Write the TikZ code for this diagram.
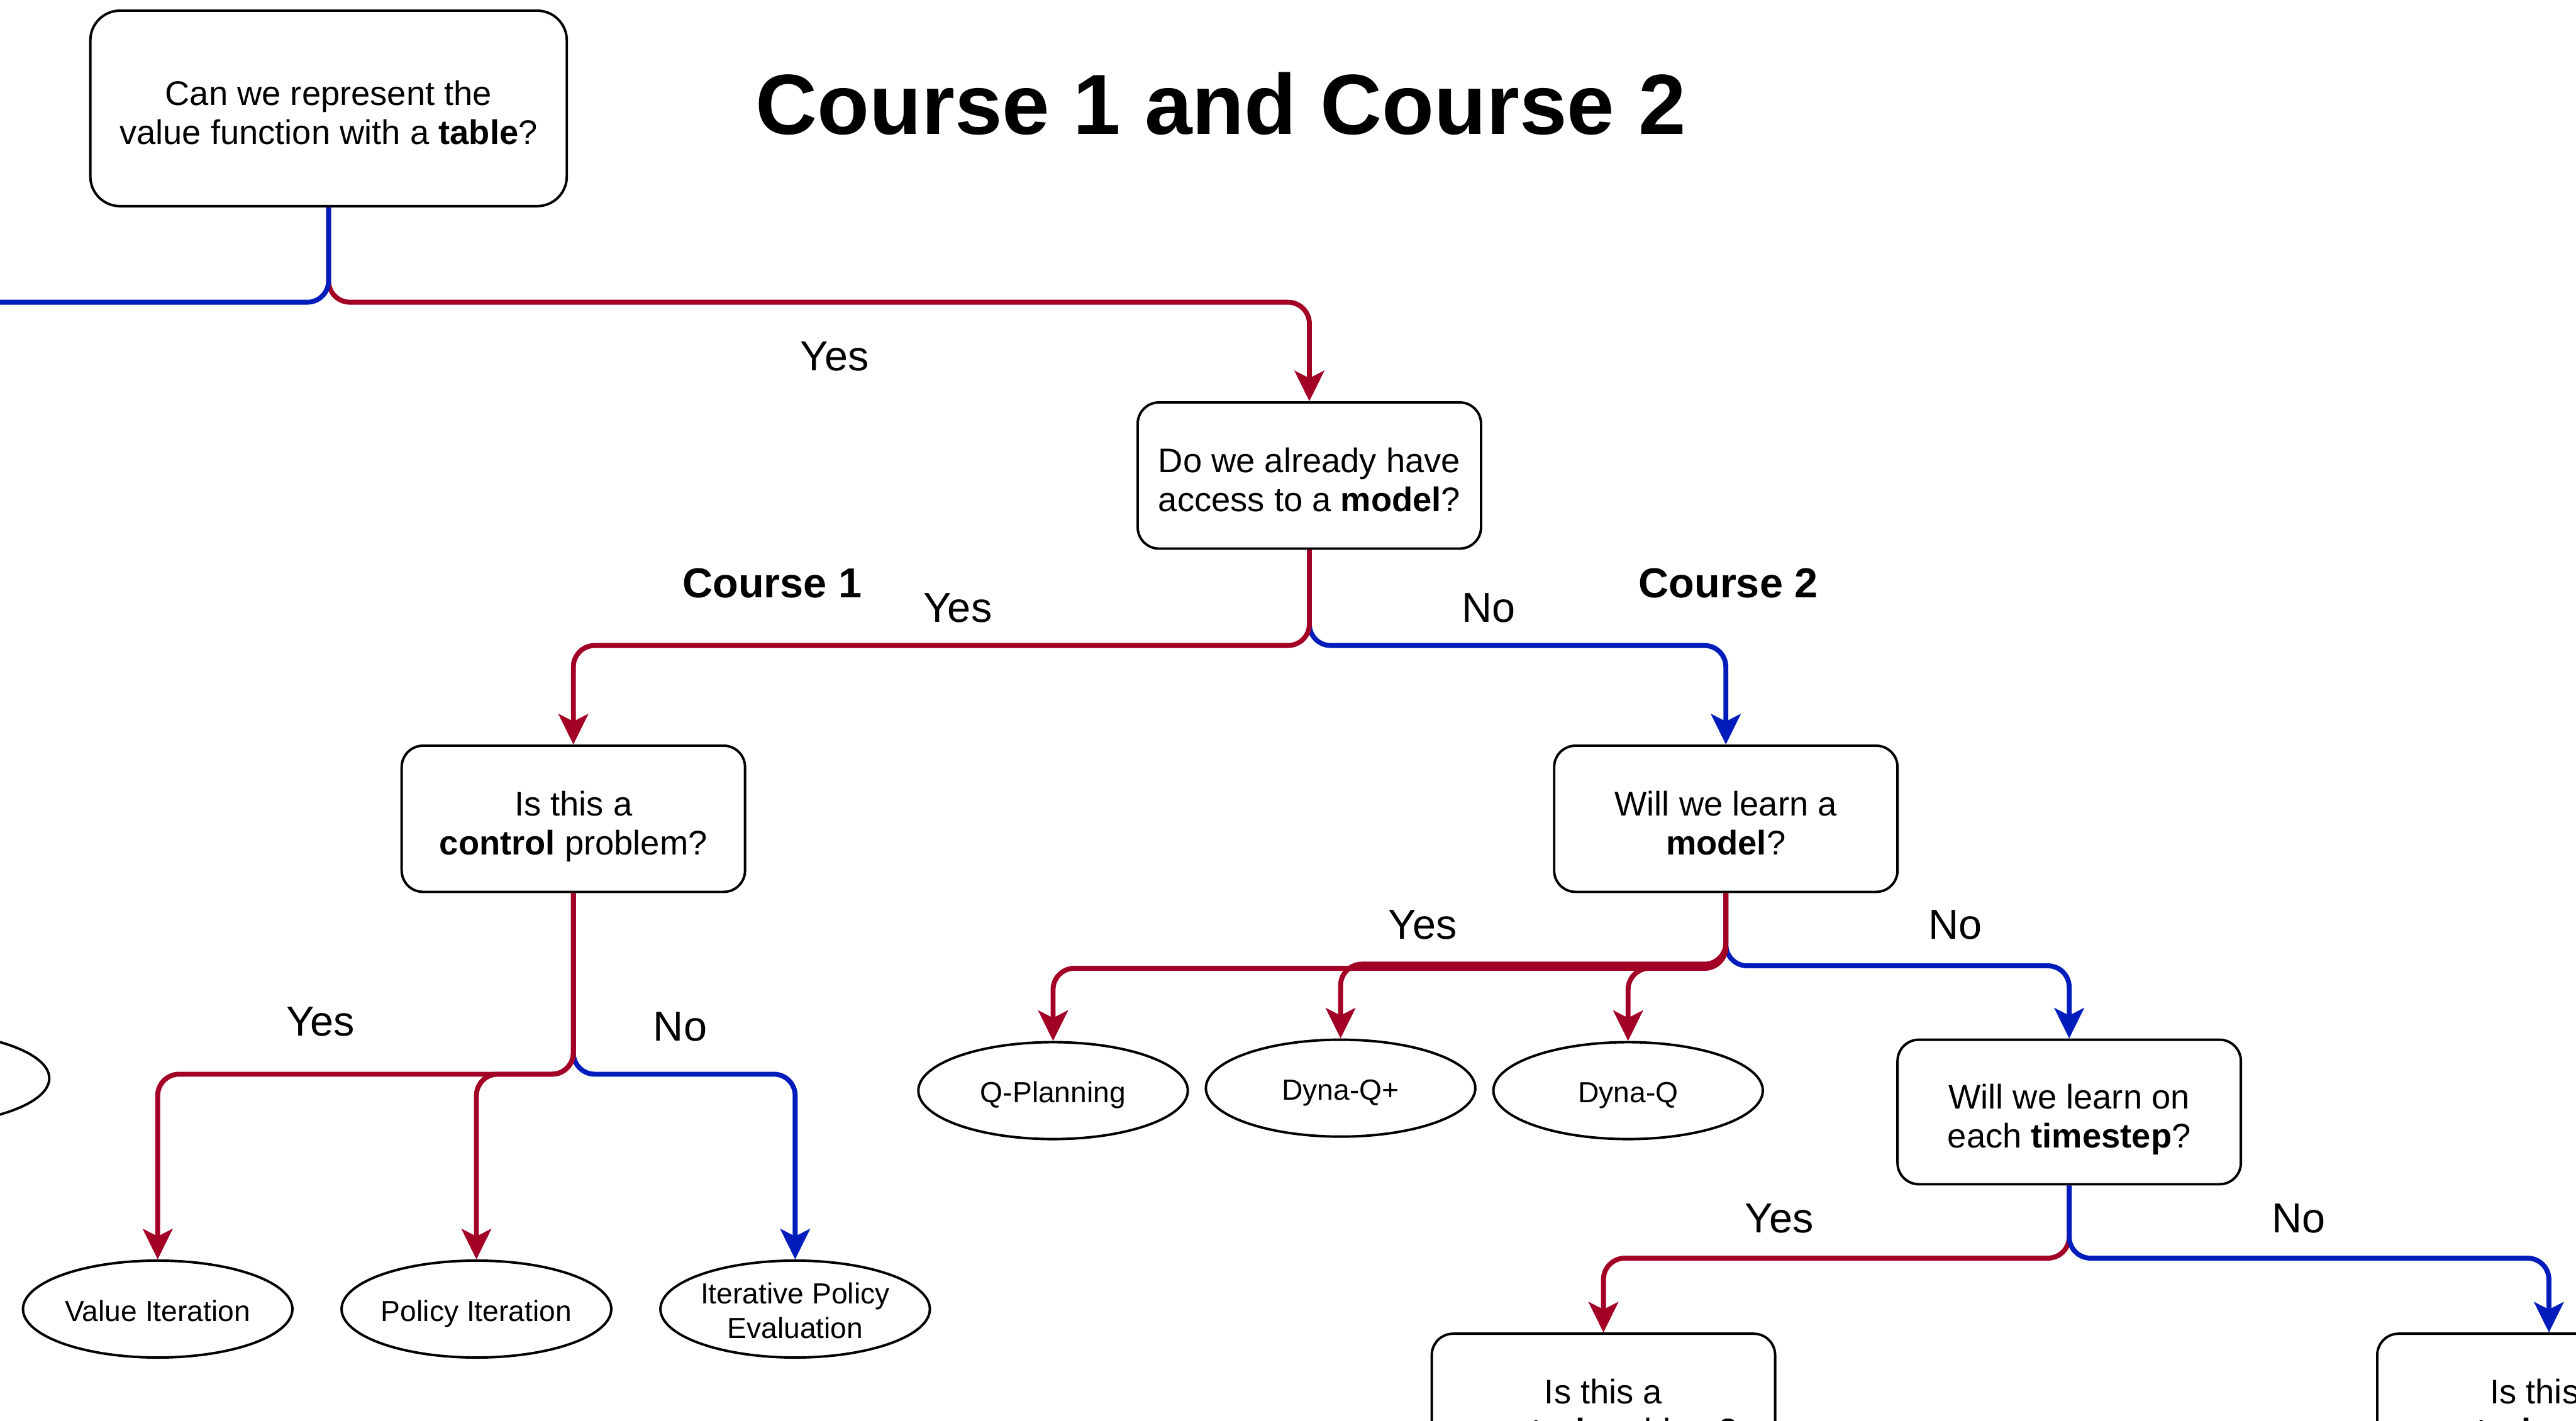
\documentclass[tikz,border=0pt]{standalone}
\usepackage{fontspec}
\setmainfont{Liberation Sans}
\usetikzlibrary{arrows.meta,shapes.geometric}
\definecolor{cred}{HTML}{A20025}
\definecolor{cblue}{HTML}{001DBC}
\newcommand{\qfont}{\fontsize{20.8}{24}\selectfont}
\newcommand{\efont}{\fontsize{17.7}{21}\selectfont}
\newcommand{\lfont}{\fontsize{25.5}{30}\selectfont}
\newcommand{\tfont}{\fontsize{52}{60}\selectfont\bfseries}
\tikzset{
  qbox/.style={draw, line width=1.5pt, rounded corners=13pt, minimum width=209pt,
    minimum height=89pt, align=center, inner sep=0pt, font=\qfont,
    text height=44pt, text depth=0pt},
  algo/.style={draw, ellipse, line width=1.5pt, minimum width=164pt, minimum height=59pt,
    align=center, inner sep=0pt, font=\efont, text height=14.7pt, text depth=0pt},
  lab/.style={inner sep=0pt, font=\lfont},
  blab/.style={inner sep=0pt, font=\lfont\bfseries},
  tip/.style={-{Stealth[length=18.5pt,width=18pt,inset=4.5pt]}},
  redE/.style={draw=cred, line width=3pt, rounded corners=13pt, tip},
  blueE/.style={draw=cblue, line width=3pt, rounded corners=13pt, tip},
}
\begin{document}
\begin{tikzpicture}[x=1pt,y=-1pt]
\clip (0,0) rectangle (1568,865);
\fill[white] (0,0) rectangle (1568,865);

% title
\node[inner sep=0pt, font=\tfont] (title) at (743,63) {Course 1 and Course 2};

% question boxes
\node[qbox, minimum width=290pt, minimum height=119pt, rounded corners=18pt] (b1) at (200,66)
  {Can we represent the\\value function with a \textbf{table}?};
\node[qbox] (b2) at (797,289.5) {Do we already have\\access to a \textbf{model}?};
\node[qbox] (b3) at (349,498.5) {Is this a\\\textbf{control} problem?};
\node[qbox] (b4) at (1050.5,498.5) {Will we learn a\\\textbf{model}?};
\node[qbox, minimum height=88pt] (b5) at (1259.5,677) {Will we learn on\\each \textbf{timestep}?};
\node[qbox] (b6) at (976,856.5) {Is this a\\\textbf{control} problem?};
\node[qbox] (b7) at (1551.5,856.5) {Is this a\\\textbf{control} problem?};

% algorithm ellipses
\node[algo] (vi) at (96,797) {Value Iteration};
\node[algo] (pi) at (290,797) {Policy Iteration};
\node[algo, text height=35.7pt] (ipe) at (484,797) {Iterative Policy\\Evaluation};
\node[algo] (qp) at (641,664) {Q-Planning};
\node[algo] (dqp) at (816,662.5) {Dyna-Q+};
\node[algo] (dq) at (991,664) {Dyna-Q};
\node[algo, minimum height=57pt] (lft) at (-52,656.5) {};

% off-canvas end of the "No" branch of the first question
\coordinate (offL) at (-40,184);

% connectors from b1
\draw[redE] (b1.south) -- (200,184) -| (b2.north);
\draw[blueE,-] (b1.south) -- (200,184) -- (offL);

% connectors from b2
\draw[blueE] (b2.south) -- (797,393) -| (b4.north);
\draw[redE] (b2.south) -- (797,393) -| (b3.north);

% connectors from b3
\draw[blueE] (b3.south) -- (349,654) -| (ipe.north);
\draw[redE] (b3.south) -- (349,654) -| (pi.north);
\draw[redE] (b3.south) -- (349,654) -| (vi.north);

% connectors from b4
\draw[blueE] (b4.south) -- (1050.5,588) -| (b5.north);
\draw[redE] (b4.south) -- (1050.5,589.5) -| (dq.north);
\draw[redE] (b4.south) -- (1050.5,587) -| (dqp.north);
\draw[redE] (b4.south) -- (1050.5,589.5) -| (qp.north);

% connectors from b5
\draw[redE] (b5.south) -- (1259.5,766) -| (b6.north);
\draw[blueE] (b5.south) -- (1259.5,766) -| (b7.north);

% edge labels
\node[lab] (l1) at (508,217) {Yes};
\node[blab] (c1) at (470,355) {Course 1};
\node[lab] (l2) at (583,370) {Yes};
\node[lab] (l3) at (906,370) {No};
\node[blab] (c2) at (1052,355) {Course 2};
\node[lab] (l4) at (195,622) {Yes};
\node[lab] (l5) at (414,625) {No};
\node[lab] (l6) at (866,563) {Yes};
\node[lab] (l7) at (1190,563) {No};
\node[lab] (l8) at (1083,742) {Yes};
\node[lab] (l9) at (1399,742) {No};
\end{tikzpicture}
\end{document}
